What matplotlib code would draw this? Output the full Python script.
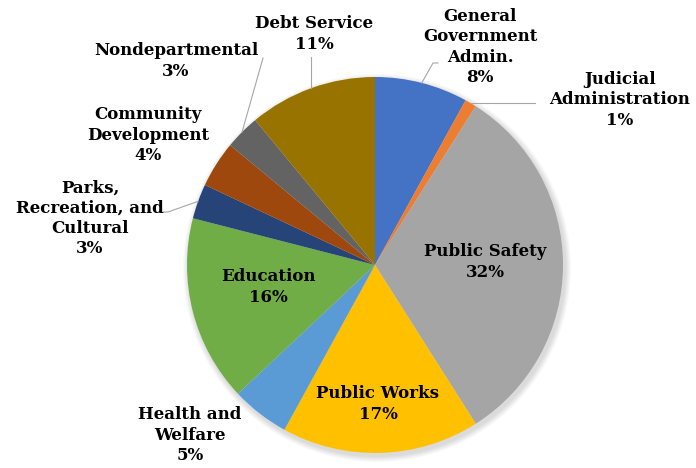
import numpy as np
import matplotlib.pyplot as plt
from matplotlib.patches import Circle

plt.rcParams['font.family'] = ['DejaVu Serif']

# 各部门支出占比（%）
categories = ['General\nGovernment\nAdmin.', 'Judicial\nAdministration', 'Public Safety',
              'Public Works', 'Health and\nWelfare', 'Education',
              'Parks,\nRecreation, and\nCultural', 'Community\nDevelopment',
              'Nondepartmental', 'Debt Service']
shares = [8, 1, 32, 17, 5, 16, 3, 4, 3, 11]
colors = ['#4472C4', '#ED7D31', '#A5A5A5', '#FFC000', '#5B9BD5',
          '#70AD47', '#264478', '#9E480E', '#636363', '#997300']

W, H = 696, 468
cx, cy, R = 375, H - 265, 188

fig = plt.figure(figsize=(W / 100, H / 100), dpi=100)
ax = fig.add_axes([0, 0, 1, 1])

# 淡阴影
for k in range(6):
    ax.add_patch(Circle((cx + 2, cy - 3), R + 1 + k, color='black',
                        alpha=0.025, lw=0, zorder=0))

wedges, _ = ax.pie(shares, colors=colors, startangle=90, counterclock=False,
                   center=(cx, cy), radius=R, frame=True)
ax.set_xlim(0, W)
ax.set_ylim(0, H)
ax.set_aspect('equal')
ax.axis('off')

# 标签中心位置 (x, 从顶部量的 y)
label_pos = [(480, 47), (620, 100), (485, 262), (378, 404), (190, 435),
             (268, 287), (90, 218), (148, 135), (176, 61), (314, 34)]

for i, (w, name, v) in enumerate(zip(wedges, categories, shares)):
    x, y = label_pos[i]
    ax.text(x, H - y, f'{name}\n{v}%', ha='center', va='center',
            fontsize=12, fontweight='bold', color='black',
            linespacing=1.25, zorder=5)

def edge_point(w, frac=0.5, rr=R):
    a = np.deg2rad(w.theta1 + (w.theta2 - w.theta1) * frac)
    return cx + rr * np.cos(a), cy + rr * np.sin(a)

line_kw = dict(color='#A6A6A6', lw=0.8, zorder=4)
# 一般行政
ex, ey = edge_point(wedges[0])
ax.plot([ex, 433, 438], [ey, H - 63, H - 63], **line_kw)
# 司法
ex, ey = edge_point(wedges[1])
ax.plot([ex, 535], [ey, ey], **line_kw)
# 公园
ex, ey = edge_point(wedges[6])
ax.plot([ex, 168, 163], [ey, H - 212, H - 212], **line_kw)
# 非部门
ex, ey = edge_point(wedges[8])
ax.plot([ex, 263], [ey, H - 58], **line_kw)
# 债务
ex, ey = edge_point(wedges[9])
ax.plot([ex, ex], [ey, H - 57], **line_kw)

fig.savefig('out.png', dpi=100)
